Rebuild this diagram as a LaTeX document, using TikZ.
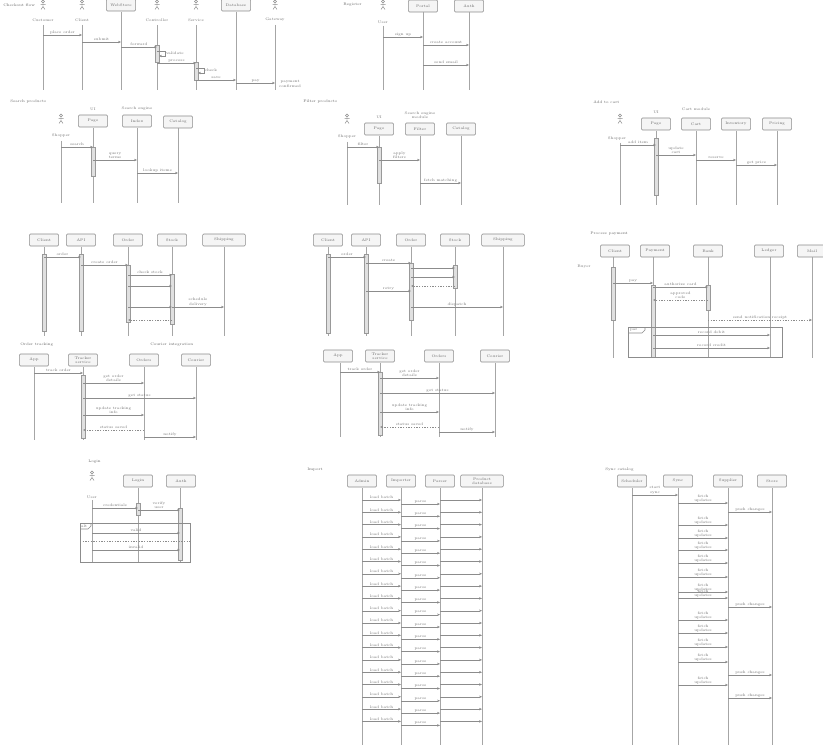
\documentclass[tikz,border=0pt]{standalone}
\usetikzlibrary{arrows.meta}
\newcommand\tinyf{\fontsize{2.8}{3.2}\selectfont}
\tikzset{
 life/.style={draw=black!35, line width=0.3pt},
 hbox/.style={draw=black!45, fill=black!4, rounded corners=0.8pt, minimum width=22pt, minimum height=9pt, inner sep=0.5pt, font=\tinyf, text=black!60, line width=0.4pt, align=center},
 wbox/.style={hbox, minimum width=32pt},
 lbl/.style={font=\tinyf, text=black!55, inner sep=0.6pt, align=center},
 ttl/.style={font=\tinyf, text=black!60, inner sep=0pt, anchor=west},
 msg/.style={draw=black!45, line width=0.3pt, -{Stealth[length=2.2pt,width=1.8pt]}},
 ret/.style={msg, dash pattern=on 1pt off 1pt},
 act/.style={draw=black!40, fill=black!12, line width=0.3pt},
 frag/.style={draw=black!45, line width=0.4pt},
 actor/.pic={\draw[black!45,line width=0.35pt] (0,1.5) circle[radius=1.1pt] (0,3)--(0,6.5) (-2.5,4.3)--(2.5,4.3) (0,6.5)--(-2,9.5) (0,6.5)--(2,9.5);}
}
\newcommand\LL[4]{\coordinate (#1) at (#2,#3); \draw[life] (#1) -- (#2,#4);}
\newcommand\MS[4]{\draw[msg] (#1|-0,#3) -- node[lbl,above]{#4} (#2|-0,#3);}
\newcommand\RT[4]{\draw[ret] (#1|-0,#3) -- node[lbl,above]{#4} (#2|-0,#3);}
\newcommand\SM[3]{\draw[msg] (#1|-0,#2) -- ++(8,0) -- node[lbl,right]{#3} ++(0,5) -- ++(-6,0);}
\newcommand\AB[3]{\draw[act] (#1-1.7,#2) rectangle (#1+1.7,#3);}
\begin{document}
\begin{tikzpicture}[x=0.75pt,y=-0.75pt]
\fill[white] (0,0) rectangle (823,745);
\useasboundingbox (0,0) rectangle (823,745);

% ---------- Diagram 1 ----------
\node[ttl] (t1) at (3,5) {Checkout flow};
\foreach \x/\n in {43/Customer,82/Client,157/Controller,196/Service,275/Gateway}{
  \pic at (\x,0) {actor};
  \node[lbl] at (\x,20) {\n};
}
\node[hbox] (b1c) at (121,5) {WebStore};
\node[hbox] (b1f) at (236,5) {Database};
\LL{a1}{43}{25}{90}\LL{a2}{82}{25}{90}\LL{a3}{121}{12}{90}\LL{a4}{157}{25}{90}
\LL{a5}{196}{25}{90}\LL{a6}{236}{12}{90}\LL{a7}{275}{25}{90}
\AB{157}{45}{62}\AB{196}{62}{80}
\MS{a1}{a2}{35}{place order}
\MS{a2}{a3}{42}{submit}
\MS{a3}{a4}{47}{forward}
\SM{a4}{51}{validate}
\MS{a4}{a5}{63}{process}
\SM{a5}{68}{check}
\MS{a5}{a6}{80}{save}
\MS{a6}{a7}{83}{pay}
\node[lbl,anchor=west] (n1) at (278,84) {payment\\confirmed};

% ---------- Diagram 2 ----------
\node[ttl] (t2) at (343,5) {Register};
\pic at (383,0) {actor};
\node[lbl] at (383,22) {User};
\node[hbox] (b2a) at (423,6) {Portal};
\node[hbox] (b2b) at (469,6) {Auth};
\LL{c1}{383}{26}{90}\LL{c2}{423}{12}{90}\LL{c3}{469}{12}{90}
\MS{c1}{c2}{37}{sign up}
\MS{c2}{c3}{45}{create account}
\MS{c2}{c3}{65}{send email}

% ---------- Diagram 3 ----------
\node[ttl] (t3) at (10,102) {Search products};
\pic at (61,114) {actor};
\node[lbl] at (61,136) {Shopper};
\node[lbl] at (93,109) {UI};
\node[hbox] (b3a) at (93,121) {Page};
\node[lbl] at (137,109) {Search engine};
\node[hbox] (b3b) at (137,121) {Index};
\node[hbox] (b3c) at (178,122) {Catalog};
\LL{d1}{61}{141}{203}\LL{d2}{93}{128}{203}\LL{d3}{137}{128}{203}\LL{d4}{178}{128}{203}
\AB{93}{147}{176}
\MS{d1}{d2}{147}{search}
\MS{d2}{d3}{160}{query\\terms}
\MS{d3}{d4}{173}{lookup items}

% ---------- Diagram 4 ----------
\node[ttl] (t4) at (303,102) {Filter products};
\pic at (347,114) {actor};
\node[lbl] at (347,137) {Shopper};
\node[lbl] at (379,117) {UI};
\node[hbox] (b4a) at (379,129) {Page};
\node[lbl] at (420,115) {Search engine\\module};
\node[hbox] (b4b) at (420,129) {Filter};
\node[hbox] (b4c) at (461,129) {Catalog};
\LL{e1}{347}{142}{205}\LL{e2}{379}{136}{205}\LL{e3}{420}{136}{205}\LL{e4}{461}{136}{205}
\AB{379}{147}{183}
\MS{e1}{e2}{147}{filter}
\MS{e2}{e3}{160}{apply\\filters}
\MS{e3}{e4}{183}{fetch matching}

% ---------- Diagram 5 ----------
\node[ttl] (t5) at (593,102) {Add to cart};
\pic at (620,114) {actor};
\node[lbl] at (617,139) {Shopper};
\node[lbl] at (656,112) {UI};
\node[hbox] (b5a) at (656,124) {Page};
\node[lbl] at (696,109) {Cart module};
\node[hbox] (b5b) at (696,124) {Cart};
\node[hbox] (b5c) at (736,124) {Inventory};
\node[hbox] (b5d) at (777,124) {Pricing};
\LL{f1}{620}{143}{205}\LL{f2}{656}{131}{205}\LL{f3}{696}{131}{205}\LL{f4}{736}{131}{205}\LL{f5}{777}{131}{205}
\AB{656}{138}{195}
\MS{f1}{f2}{145}{add item}
\MS{f2}{f3}{155}{update\\cart}
\MS{f3}{f4}{160}{reserve}
\MS{f4}{f5}{165}{get price}

% ---------- Diagram 6 ----------
\node[hbox] (b6a) at (44,240) {Client};
\node[hbox] (b6b) at (81,240) {API};
\node[hbox] (b6c) at (128,240) {Order};
\node[hbox] (b6d) at (172,240) {Stock};
\node[wbox] (b6e) at (224,240) {Shipping};
\LL{g1}{44}{247}{336}\LL{g2}{81}{247}{336}\LL{g3}{128}{247}{336}\LL{g4}{172}{247}{336}\LL{g5}{224}{247}{336}
\AB{44}{254}{331}\AB{81}{254}{331}\AB{128}{265}{322}\AB{172}{274}{324}
\MS{g1}{g2}{257}{order}
\MS{g2}{g3}{265}{create order}
\MS{g3}{g4}{275}{check stock}
\MS{g3}{g4}{286}{}
\MS{g3}{g4}{307}{}
\RT{g4}{g3}{320}{}
\MS{g4}{g5}{307}{schedule\\delivery}

% ---------- Diagram 7 ----------
\node[hbox] (b7a) at (328,240) {Client};
\node[hbox] (b7b) at (366,240) {API};
\node[hbox] (b7c) at (411,240) {Order};
\node[hbox] (b7d) at (455,240) {Stock};
\node[wbox] (b7e) at (503,240) {Shipping};
\LL{h1}{328}{247}{336}\LL{h2}{366}{247}{336}\LL{h3}{411}{247}{336}\LL{h4}{455}{247}{336}\LL{h5}{503}{247}{336}
\AB{328}{254}{333}\AB{366}{254}{333}\AB{411}{263}{320}\AB{455}{265}{288}
\MS{h1}{h2}{257}{order}
\MS{h2}{h3}{263}{create}
\MS{h3}{h4}{268}{}
\MS{h3}{h4}{277}{}
\RT{h4}{h3}{286}{}
\MS{h2}{h3}{291}{retry}
\MS{h3}{h5}{307}{dispatch}

% ---------- Diagram 8 ----------
\node[ttl] (t8) at (590,234) {Process payment};
\node[lbl] at (584,267) {Buyer};
\node[hbox] (b8a) at (615,251) {Client};
\node[hbox] (b8b) at (655,251) {Payment};
\node[hbox] (b8c) at (708,251) {Bank};
\node[hbox] (b8d) at (769,251) {Ledger};
\node[hbox] (b8e) at (812,251) {Mail};
\LL{k1}{613}{257}{358}\LL{k2}{653}{257}{358}\LL{k3}{708}{257}{358}\LL{k4}{770}{257}{358}\LL{k5}{812}{257}{358}
\AB{613}{267}{320}\AB{653}{285}{357}\AB{708}{285}{310}
\MS{k1}{k2}{283}{pay}
\MS{k2}{k3}{287}{authorize card}
\RT{k3}{k2}{300}{approved\\code}
\draw[ret] (k3|-0,320) -- node[lbl,above]{send notification receipt} (k5|-0,320);
\draw[frag] (628,327) rectangle (782,357);
\draw[frag] (628,333) -- (642,333) -- (645,330) -- (645,327);
\node[lbl,anchor=west] at (629,330) {par};
\MS{k2}{k4}{335}{record debit}
\MS{k2}{k4}{348}{record credit}

% ---------- Diagram 9 ----------
\node[ttl] (t9) at (20,345) {Order tracking};
\node[ttl] (t9b) at (150,345) {Courier integration};
\node[hbox] (b9a) at (34,360) {App};
\node[hbox] (b9b) at (83,360) {Tracker\\service};
\node[hbox] (b9c) at (144,360) {Orders};
\node[hbox] (b9d) at (196,360) {Courier};
\LL{p1}{34}{367}{440}\LL{p2}{83}{367}{440}\LL{p3}{144}{367}{440}\LL{p4}{196}{367}{440}
\AB{83}{375}{438}
\MS{p1}{p2}{373}{track order}
\MS{p2}{p3}{383}{get order\\details}
\MS{p2}{p4}{398}{get status}
\MS{p2}{p3}{415}{update tracking\\info}
\RT{p3}{p2}{430}{status saved}
\MS{p3}{p4}{437}{notify}

% ---------- Diagram 10 ----------
\node[hbox] (b10a) at (338,356) {App};
\node[hbox] (b10b) at (380,356) {Tracker\\service};
\node[hbox] (b10c) at (439,356) {Orders};
\node[hbox] (b10d) at (495,356) {Courier};
\LL{q1}{340}{363}{437}\LL{q2}{380}{363}{437}\LL{q3}{439}{363}{437}\LL{q4}{495}{363}{437}
\AB{380}{372}{435}
\MS{q1}{q2}{372}{track order}
\MS{q2}{q3}{378}{get order\\details}
\MS{q2}{q4}{393}{get status}
\MS{q2}{q3}{412}{update tracking\\info}
\RT{q3}{q2}{427}{status saved}
\MS{q3}{q4}{432}{notify}

% ---------- Diagram 11 ----------
\node[ttl] (t11) at (88,462) {Login};
\pic at (92,471) {actor};
\node[lbl] at (92,497) {User};
\node[hbox] (b11a) at (138,481) {Login};
\node[hbox] (b11b) at (181,481) {Auth};
\LL{r1}{92}{500}{562}\LL{r2}{138}{488}{562}\LL{r3}{180}{488}{562}
\AB{138}{503}{515}\AB{180}{508}{560}
\MS{r1}{r2}{508}{credentials}
\MS{r2}{r3}{510}{verify\\user}
\draw[frag] (80,523) rectangle (190,562);
\draw[frag] (80,529) -- (88,529) -- (91,526) -- (91,523);
\node[lbl,anchor=west] at (80,526) {alt};
\draw[frag,dash pattern=on 1pt off 1pt] (80,541) -- (190,541);
\MS{r1}{r3}{533}{valid}
\MS{r1}{r3}{550}{invalid}

% ---------- Diagram 12 ----------
\node[ttl] (t12) at (307,470) {Import};
\node[hbox] (b12a) at (362,481) {Admin};
\node[hbox] (b12b) at (401,481) {Importer};
\node[hbox] (b12c) at (440,481) {Parser};
\node[wbox] (b12d) at (482,481) {Product\\database};
\LL{m1}{362}{488}{745}\LL{m2}{401}{488}{745}\LL{m3}{440}{488}{745}\LL{m4}{482}{488}{745}
\foreach \k in {0,...,18}{
  \pgfmathsetmacro\yy{500+12.3*\k}
  \pgfmathsetmacro\yb{\yy+4}
  \MS{m1}{m2}{\yy}{load batch}
  \MS{m2}{m3}{\yb}{parse}
  \draw[msg] (m3|-0,\yy) -- (m4|-0,\yy);
}

% ---------- Diagram 13 ----------
\node[ttl] (t13) at (605,470) {Sync catalog};
\node[hbox] (b13a) at (632,481) {Scheduler};
\node[hbox] (b13b) at (678,481) {Sync};
\node[hbox] (b13c) at (728,481) {Supplier};
\node[hbox] (b13d) at (772,481) {Store};
\LL{n1}{632}{488}{745}\LL{n2}{678}{488}{745}\LL{n3}{728}{488}{745}\LL{n4}{772}{488}{745}
\MS{n1}{n2}{495}{start\\sync}
\foreach \yy in {503,525,538,550,563,577,592,598,620,633,647,662,685}{
  \MS{n2}{n3}{\yy}{fetch\\updates}
}
\foreach \yy in {512,607,675,698}{
  \MS{n3}{n4}{\yy}{push changes}
}
\end{tikzpicture}
\end{document}
